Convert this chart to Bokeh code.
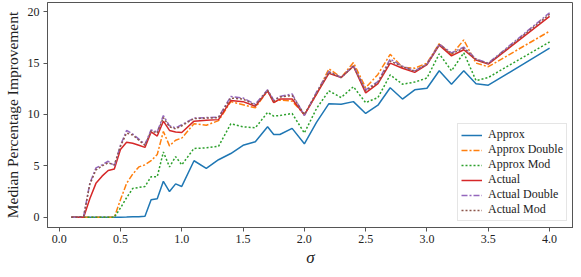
from bokeh.plotting import figure
from bokeh.models import Range1d, FixedTicker, Legend, LegendItem, PrintfTickFormatter
from bokeh.embed import file_html
from bokeh.resources import INLINE

sigma = [0.1, 0.15, 0.2, 0.25, 0.3, 0.35, 0.4, 0.45, 0.5, 0.55, 0.6, 0.65, 0.7, 0.75, 0.8,
         0.85, 0.9, 0.95, 1.0, 1.1, 1.2, 1.3, 1.4, 1.5, 1.6, 1.7, 1.75, 1.8, 1.9, 2.0,
         2.1, 2.2, 2.3, 2.4, 2.5, 2.6, 2.7, 2.8, 2.9, 3.0, 3.1, 3.2, 3.3, 3.4, 3.5, 4.0]

approx = [0, 0, 0, 0, 0, 0, 0, 0, 0, 0.02, 0.05, 0.05, 0.1, 1.7, 1.8,
          3.5, 2.5, 3.25, 3.0, 5.5, 4.75, 5.6, 6.2, 7.0, 7.35, 8.8, 8.05, 8.05, 8.65, 7.15,
          9.25, 11.05, 11.0, 11.25, 10.1, 10.9, 12.6, 11.5, 12.4, 12.55, 14.25, 12.95, 14.25, 13.0, 12.85, 16.45]

approx_double = [0, 0, 0, 0, 0, 0, 0, 0, 1.7, 3.3, 4.2, 4.9, 5.1, 5.5, 6.1,
                 8.35, 6.95, 7.5, 7.7, 9.1, 8.95, 9.4, 11.25, 10.95, 10.65, 12.3, 11.2, 11.4, 11.3, 10.0,
                 12.0, 14.45, 13.6, 15.05, 12.6, 13.9, 15.85, 14.6, 14.5, 15.0, 16.9, 15.8, 17.25, 15.0, 14.65, 18.1]

approx_mod = [0, 0, 0, 0, 0, 0, 0, 0, 0.9, 1.9, 2.8, 2.9, 3.0, 3.95, 3.95,
              6.35, 4.9, 5.9, 5.1, 6.7, 6.75, 6.9, 9.1, 8.8, 8.7, 10.2, 9.85, 9.9, 10.1, 8.2,
              10.6, 12.3, 11.65, 12.7, 11.15, 11.65, 13.85, 12.95, 13.15, 13.55, 15.9, 14.25, 16.0, 13.3, 13.6, 17.05]

actual = [0, 0, 0, 1.8, 3.3, 4.0, 4.55, 4.7, 6.6, 7.3, 7.2, 7.0, 6.8, 8.3, 7.9,
          9.35, 8.45, 8.3, 8.25, 9.35, 9.45, 9.5, 11.35, 11.25, 10.8, 12.3, 11.15, 11.5, 11.5, 9.95,
          12.0, 14.0, 13.6, 14.7, 12.1, 13.0, 15.0, 14.5, 14.1, 14.85, 16.75, 15.7, 16.3, 15.3, 14.9, 19.55]

actual_double = [0, 0, 0.1, 3.3, 4.8, 5.1, 5.45, 5.0, 7.0, 8.45, 8.1, 7.6, 7.1, 8.5, 8.3,
                 9.9, 8.9, 8.7, 9.0, 9.65, 9.7, 9.75, 11.75, 11.6, 11.0, 12.4, 11.4, 11.75, 12.0, 9.9,
                 12.2, 14.2, 13.6, 14.75, 12.4, 13.2, 15.4, 14.7, 14.25, 14.9, 16.85, 16.0, 16.55, 15.4, 15.0, 19.9]

actual_mod = [0, 0, 0.1, 3.2, 4.6, 5.0, 5.3, 5.1, 6.9, 8.2, 8.0, 7.5, 7.0, 8.4, 8.2,
              9.7, 8.8, 8.6, 8.9, 9.6, 9.65, 9.7, 11.6, 11.5, 10.9, 12.35, 11.3, 11.7, 11.85, 10.0,
              12.1, 14.1, 13.6, 14.7, 12.3, 13.1, 15.2, 14.65, 14.2, 14.9, 16.8, 15.9, 16.45, 15.35, 14.95, 19.75]

x_ticks = [0.0, 0.5, 1.0, 1.5, 2.0, 2.5, 3.0, 3.5, 4.0]
y_ticks = [0, 5, 10, 15, 20]

series = [
    ("Approx", approx, "#1f77b4", "solid"),
    ("Approx Double", approx_double, "#ff7f0e", "6 2 2 2"),
    ("Approx Mod", approx_mod, "#2ca02c", "2 2"),
    ("Actual", actual, "#d62728", "solid"),
    ("Actual Double", actual_double, "#9467bd", "6 2 2 2"),
    ("Actual Mod", actual_mod, "#8c564b", "2 2"),
]

FONT = "Liberation Serif"

p = figure(width=573, height=269, output_backend="svg", toolbar_location=None,
           x_range=Range1d(-0.095, 4.195), y_range=Range1d(-0.995, 20.895),
           min_border_left=0, min_border_right=0, min_border_top=2, min_border_bottom=0)

items = []
for name, ys, color, dash in series:
    r = p.line(sigma, ys, line_color=color, line_width=1.5, line_dash=dash)
    items.append(LegendItem(label=name, renderers=[r]))

legend = Legend(items=items, location="bottom_right", margin=6, padding=3, spacing=0,
                glyph_width=21, glyph_height=12, label_height=12, label_standoff=6,
                label_text_font=FONT, label_text_font_size="12px", label_text_color="#222222",
                border_line_color="#cccccc", border_line_width=1,
                background_fill_color="white", background_fill_alpha=0.8)
p.add_layout(legend, "center")

p.xgrid.visible = False
p.ygrid.visible = False
p.outline_line_color = "#555555"
p.outline_line_width = 1

for ax in (p.xaxis[0], p.yaxis[0]):
    ax.axis_line_color = "#555555"
    ax.major_tick_line_color = "#555555"
    ax.major_tick_in = 0
    ax.major_tick_out = 4
    ax.minor_tick_line_color = None
    ax.major_label_text_font = FONT
    ax.major_label_text_font_size = "12px"
    ax.major_label_text_color = "#222222"
    ax.axis_label_text_font = FONT
    ax.axis_label_text_color = "#222222"
    ax.axis_label_text_font_style = "normal"

p.xaxis.ticker = FixedTicker(ticks=x_ticks)
p.xaxis.formatter = PrintfTickFormatter(format="%.1f")
p.yaxis.ticker = FixedTicker(ticks=y_ticks)
p.xaxis.axis_label = "σ"
p.xaxis.axis_label_text_font_size = "17px"
p.xaxis.axis_label_text_font_style = "italic"
p.xaxis.axis_label_standoff = 2
p.xaxis.major_label_standoff = 3
p.yaxis.axis_label = "Median Percentage Improvement"
p.yaxis.axis_label_text_font_size = "15.5px"
p.yaxis.axis_label_standoff = 4
p.yaxis.major_label_standoff = 4

open("out.html", "w").write(file_html(p, INLINE))
